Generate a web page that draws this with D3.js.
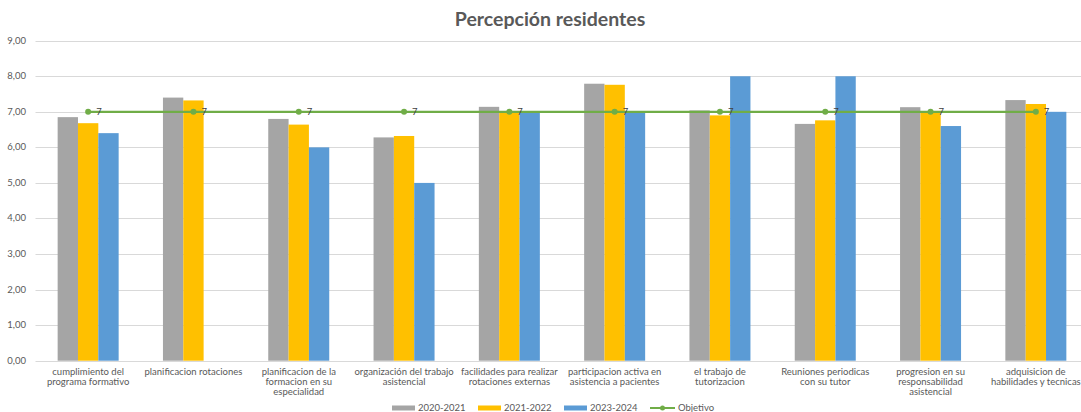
<!DOCTYPE html>
<html><head><meta charset="utf-8">
<script src="https://cdn.jsdelivr.net/npm/d3@7"></script>
<style>html,body{margin:0;padding:0;background:#fff;overflow:hidden}svg{display:block}</style>
</head><body><div id="chart"></div>
<script>
const categories = [
  "cumplimiento del\nprograma formativo",
  "planificacion rotaciones",
  "planificacion de la\nformacion en su\nespecialidad",
  "organización del trabajo\nasistencial",
  "facilidades para realizar\nrotaciones externas",
  "participacion activa en\nasistencia a pacientes",
  "el trabajo de\ntutorizacion",
  "Reuniones periodicas\ncon su tutor",
  "progresion en su\nresponsabilidad\nasistencial",
  "adquisicion de\nhabilidades y tecnicas"
];
const seriesNames = ["2020-2021", "2021-2022", "2023-2024"];
const s2020 = [6.85, 7.40, 6.80, 6.28, 7.14, 7.79, 7.04, 6.66, 7.13, 7.33];
const s2021 = [6.68, 7.32, 6.64, 6.32, 7.00, 7.76, 6.90, 6.76, 7.00, 7.22];
const s2023 = [6.40, null, 6.00, 5.00, 7.00, 7.00, 8.00, 8.00, 6.60, 7.00];
const objetivo = [7, 7, 7, 7, 7, 7, 7, 7, 7, 7];
const objetivoName = "Objetivo";
const yTicks = [0, 1, 2, 3, 4, 5, 6, 7, 8, 9];
const title = "Percepción residentes";
const colors = ["#a5a5a5", "#ffc000", "#5b9bd5"];
const lineColor = "#70ad47";

const W = 1081, H = 412;
const svg = d3.select("#chart").append("svg").attr("width", W).attr("height", H);
const font = "Lato, 'Open Sans', sans-serif";
const textColor = "#595959";

const x = d3.scaleBand().domain(d3.range(categories.length)).range([35.5, 35.5 + 105.3 * 10]).paddingInner(0).paddingOuter(0);
const y = d3.scaleLinear().domain([0, 9]).range([360.7, 40.7]);
const groupW = 61;
const xs = d3.scaleBand().domain(d3.range(3)).range([0, groupW]);

// title
svg.append("text").attr("x", 550).attr("y", 25.5).attr("text-anchor", "middle")
  .attr("font-family", font).attr("font-weight", "bold").attr("font-size", 19.5)
  .attr("fill", textColor).text(title);

// grid
svg.append("g").selectAll("line").data(yTicks).join("line")
  .attr("x1", 35.5).attr("x2", W)
  .attr("y1", d => Math.round(y(d)) + 0.5).attr("y2", d => Math.round(y(d)) + 0.5)
  .attr("stroke", "#d9d9d9").attr("stroke-width", 1);

// y tick labels
svg.append("g").selectAll("text").data(yTicks).join("text")
  .attr("x", 26).attr("y", d => y(d) + 3).attr("text-anchor", "end")
  .attr("font-family", font).attr("font-size", 9.5).attr("fill", textColor)
  .text(d => d3.format(".2f")(d).replace(".", ","));

// bars
const allSeries = [s2020, s2021, s2023];
allSeries.forEach((s, si) => {
  svg.append("g").selectAll("rect").data(s.map((v, i) => ({v, i})).filter(d => d.v != null)).join("rect")
    .attr("x", d => x(d.i) + x.bandwidth() / 2 - groupW / 2 + xs(si))
    .attr("width", xs.bandwidth())
    .attr("y", d => y(d.v))
    .attr("height", d => y(0) - y(d.v))
    .attr("fill", colors[si]);
});

// objective line
const line = d3.line().x((d, i) => x(i) + x.bandwidth() / 2).y(d => y(d));
svg.append("path").datum(objetivo).attr("d", line).attr("fill", "none").attr("stroke", lineColor).attr("stroke-width", 2.2);
svg.append("g").selectAll("circle").data(objetivo).join("circle")
  .attr("cx", (d, i) => x(i) + x.bandwidth() / 2).attr("cy", d => y(d)).attr("r", 3)
  .attr("fill", lineColor);
svg.append("g").selectAll("text").data(objetivo).join("text")
  .attr("x", (d, i) => x(i) + x.bandwidth() / 2 + 8).attr("y", d => y(d) + 3.5)
  .attr("font-family", font).attr("font-size", 9.5).attr("fill", "#404040")
  .text(d => d);

// category labels
const catG = svg.append("g");
categories.forEach((c, i) => {
  const t = catG.append("text").attr("text-anchor", "middle")
    .attr("font-family", font).attr("font-size", 9.5).attr("fill", textColor);
  c.split("\n").forEach((ln, j) => {
    t.append("tspan").attr("x", x(i) + x.bandwidth() / 2).attr("y", 374.5 + j * 10).text(ln);
  });
});

// legend
const legend = [
  {name: seriesNames[0], type: "bar", color: colors[0], x: 392},
  {name: seriesNames[1], type: "bar", color: colors[1], x: 478},
  {name: seriesNames[2], type: "bar", color: colors[2], x: 564},
  {name: objetivoName, type: "line", color: lineColor, x: 650}
];
const lg = svg.append("g");
legend.forEach(d => {
  if (d.type === "bar") {
    lg.append("rect").attr("x", d.x).attr("y", 405.5).attr("width", 23).attr("height", 5).attr("fill", d.color);
  } else {
    lg.append("line").attr("x1", d.x).attr("x2", d.x + 25).attr("y1", 408).attr("y2", 408).attr("stroke", d.color).attr("stroke-width", 2);
    lg.append("circle").attr("cx", d.x + 12.5).attr("cy", 408).attr("r", 2.5).attr("fill", d.color);
  }
  lg.append("text").attr("x", d.x + (d.type === "bar" ? 26 : 28)).attr("y", 411)
    .attr("font-family", font).attr("font-size", 9.5).attr("fill", textColor).text(d.name);
});
</script></body></html>
